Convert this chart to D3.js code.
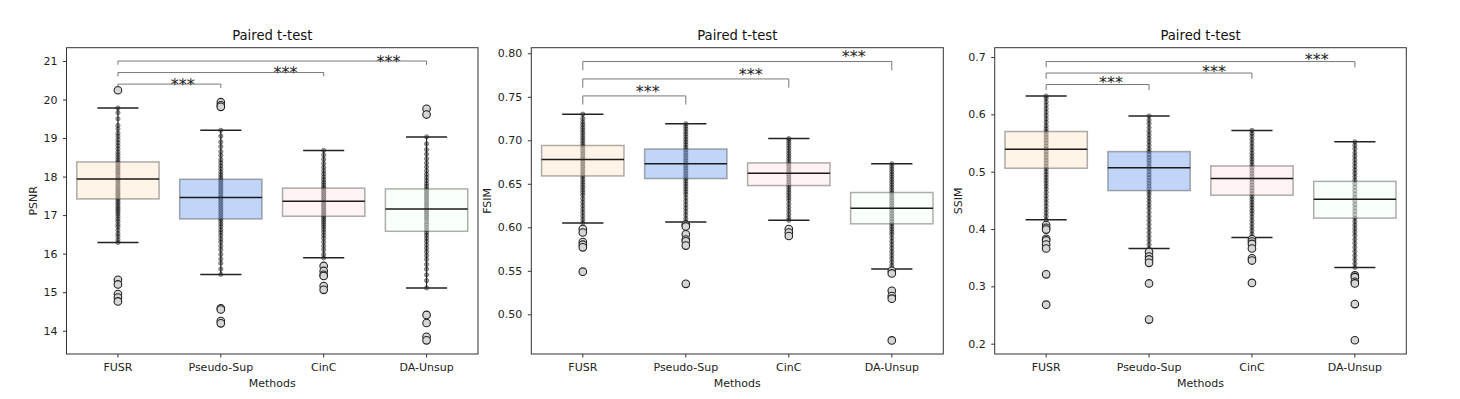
<!DOCTYPE html>
<html>
<head>
<meta charset="utf-8">
<script src="https://cdn.jsdelivr.net/npm/d3@7"></script>
<style>
  body { margin: 0; background: #fff; }
  svg { display: block; font-family: "DejaVu Sans", sans-serif; }
</style>
</head>
<body>
<svg id="chart" width="1460" height="399"></svg>
<script>
// categories shared by the three panels
var methods = ["FUSR", "Pseudo-Sup", "CinC", "DA-Unsup"];
var boxColors = ["#ffe4c4", "#6495ed", "#ffe4e1", "#f0fff0"];

// box stats per method: [lower whisker, q1, median, q3, upper whisker]
var psnrBoxes = [
    [16.29, 17.42, 17.94, 18.38, 19.78],
    [15.46, 16.90, 17.46, 17.93, 19.20],
    [15.89, 16.97, 17.36, 17.70, 18.68],
    [15.11, 16.58, 17.16, 17.68, 19.03]
];
var psnrOutliers = [
    [20.24, 15.32, 15.20, 14.95, 14.86, 14.76],
    [19.93, 19.85, 19.81, 14.58, 14.55, 14.25, 14.19],
    [15.68, 15.55, 15.45, 15.42, 15.16, 15.06],
    [19.76, 19.61, 14.41, 14.20, 13.84, 13.75]
];
var psnrStrip = [
    [16.29, 16.36, 16.45, 16.52, 16.61, 16.7, 16.76, 16.84, 16.9, 16.97, 17.03, 17.09, 17.14, 17.19, 17.24, 17.3, 17.35, 17.41, 17.46, 17.52, 17.57, 17.63, 17.68, 17.74, 17.8, 17.86, 17.92, 17.97, 18.03, 18.09, 18.14, 18.2, 18.25, 18.31, 18.37, 18.43, 18.5, 18.57, 18.64, 18.72, 18.8, 18.88, 18.96, 19.05, 19.13, 19.24, 19.33, 19.5, 19.66, 19.78],
    [15.46, 15.6, 15.75, 15.86, 15.98, 16.1, 16.2, 16.3, 16.38, 16.47, 16.55, 16.62, 16.7, 16.77, 16.84, 16.9, 16.96, 17.02, 17.08, 17.14, 17.2, 17.26, 17.32, 17.38, 17.44, 17.5, 17.56, 17.62, 17.68, 17.74, 17.8, 17.86, 17.92, 17.98, 18.05, 18.12, 18.2, 18.28, 18.36, 18.44, 18.55, 18.65, 18.78, 18.9, 19.05, 19.2],
    [15.89, 15.98, 16.1, 16.2, 16.3, 16.4, 16.48, 16.56, 16.63, 16.7, 16.76, 16.82, 16.88, 16.93, 16.98, 17.03, 17.08, 17.13, 17.18, 17.23, 17.28, 17.33, 17.38, 17.43, 17.48, 17.53, 17.58, 17.63, 17.68, 17.73, 17.79, 17.85, 17.92, 17.99, 18.07, 18.15, 18.24, 18.34, 18.45, 18.56, 18.68],
    [15.11, 15.3, 15.45, 15.6, 15.72, 15.85, 15.95, 16.05, 16.14, 16.23, 16.32, 16.4, 16.48, 16.55, 16.62, 16.69, 16.76, 16.83, 16.9, 16.96, 17.02, 17.08, 17.14, 17.2, 17.26, 17.32, 17.38, 17.44, 17.5, 17.56, 17.62, 17.68, 17.75, 17.82, 17.9, 17.98, 18.06, 18.15, 18.25, 18.35, 18.46, 18.58, 18.7, 18.85, 19.03]
];
var psnrTicks = [14, 15, 16, 17, 18, 19, 20, 21];

var fsimBoxes = [
    [0.605, 0.659, 0.678, 0.694, 0.730],
    [0.606, 0.656, 0.673, 0.690, 0.719],
    [0.608, 0.648, 0.662, 0.674, 0.702],
    [0.552, 0.604, 0.622, 0.640, 0.673]
];
var fsimOutliers = [
    [0.598, 0.594, 0.583, 0.580, 0.577, 0.549],
    [0.603, 0.601, 0.592, 0.586, 0.584, 0.579, 0.535],
    [0.598, 0.594, 0.590],
    [0.550, 0.547, 0.527, 0.521, 0.518, 0.470]
];
var fsimStrip = [
    [0.605, 0.609, 0.613, 0.617, 0.621, 0.625, 0.629, 0.633, 0.637, 0.64, 0.643, 0.646, 0.649, 0.652, 0.655, 0.658, 0.661, 0.664, 0.667, 0.67, 0.673, 0.676, 0.679, 0.682, 0.685, 0.688, 0.691, 0.694, 0.697, 0.7, 0.703, 0.706, 0.709, 0.712, 0.715, 0.718, 0.721, 0.725, 0.73],
    [0.606, 0.61, 0.614, 0.618, 0.622, 0.626, 0.63, 0.634, 0.638, 0.641, 0.644, 0.647, 0.65, 0.653, 0.656, 0.659, 0.662, 0.665, 0.668, 0.671, 0.674, 0.677, 0.68, 0.683, 0.686, 0.689, 0.692, 0.695, 0.698, 0.701, 0.704, 0.707, 0.71, 0.713, 0.716, 0.719],
    [0.608, 0.611, 0.615, 0.619, 0.623, 0.627, 0.631, 0.634, 0.637, 0.64, 0.643, 0.646, 0.649, 0.652, 0.655, 0.658, 0.661, 0.664, 0.667, 0.67, 0.673, 0.676, 0.679, 0.682, 0.685, 0.688, 0.691, 0.694, 0.697, 0.7, 0.702],
    [0.552, 0.556, 0.56, 0.564, 0.568, 0.572, 0.576, 0.58, 0.584, 0.588, 0.592, 0.595, 0.598, 0.601, 0.604, 0.607, 0.61, 0.613, 0.616, 0.619, 0.622, 0.625, 0.628, 0.631, 0.634, 0.637, 0.64, 0.643, 0.646, 0.649, 0.652, 0.655, 0.658, 0.661, 0.664, 0.667, 0.67, 0.673]
];
var fsimTicks = [0.50, 0.55, 0.60, 0.65, 0.70, 0.75, 0.80];

var ssimBoxes = [
    [0.416, 0.506, 0.539, 0.570, 0.632],
    [0.366, 0.467, 0.507, 0.535, 0.597],
    [0.385, 0.459, 0.488, 0.510, 0.572],
    [0.333, 0.419, 0.452, 0.483, 0.552]
];
var ssimOutliers = [
    [0.407, 0.402, 0.399, 0.383, 0.380, 0.373, 0.366, 0.321, 0.268],
    [0.360, 0.352, 0.347, 0.341, 0.305, 0.242],
    [0.382, 0.378, 0.374, 0.366, 0.349, 0.345, 0.306],
    [0.319, 0.316, 0.308, 0.305, 0.269, 0.206]
];
var ssimStrip = [
    [0.416, 0.422, 0.428, 0.434, 0.44, 0.446, 0.452, 0.458, 0.464, 0.47, 0.475, 0.48, 0.485, 0.49, 0.495, 0.5, 0.505, 0.51, 0.515, 0.52, 0.525, 0.53, 0.535, 0.54, 0.545, 0.55, 0.555, 0.56, 0.565, 0.57, 0.575, 0.58, 0.586, 0.592, 0.598, 0.604, 0.61, 0.616, 0.622, 0.628, 0.632],
    [0.366, 0.373, 0.38, 0.387, 0.394, 0.401, 0.408, 0.415, 0.422, 0.429, 0.436, 0.442, 0.448, 0.454, 0.46, 0.465, 0.47, 0.475, 0.48, 0.485, 0.49, 0.495, 0.5, 0.505, 0.51, 0.515, 0.52, 0.525, 0.53, 0.535, 0.54, 0.546, 0.552, 0.558, 0.564, 0.57, 0.577, 0.584, 0.59, 0.597],
    [0.385, 0.391, 0.397, 0.403, 0.409, 0.415, 0.421, 0.427, 0.432, 0.437, 0.442, 0.447, 0.452, 0.457, 0.462, 0.467, 0.472, 0.477, 0.482, 0.487, 0.492, 0.497, 0.502, 0.507, 0.512, 0.517, 0.522, 0.527, 0.532, 0.538, 0.544, 0.55, 0.556, 0.562, 0.567, 0.572],
    [0.333, 0.34, 0.347, 0.354, 0.361, 0.368, 0.375, 0.382, 0.389, 0.395, 0.401, 0.407, 0.413, 0.419, 0.425, 0.431, 0.437, 0.443, 0.449, 0.455, 0.461, 0.467, 0.473, 0.479, 0.485, 0.491, 0.497, 0.503, 0.509, 0.515, 0.521, 0.527, 0.533, 0.54, 0.546, 0.552]
];
var ssimTicks = [0.2, 0.3, 0.4, 0.5, 0.6, 0.7];

// significance brackets: FUSR vs each other method
var bracketPairs = [[0, 1], [0, 2], [0, 3]];
var psnrBracketLevels = [20.4, 20.7, 21.0];
var fsimBracketLevels = [0.751, 0.7705, 0.7905];
var ssimBracketLevels = [0.652, 0.672, 0.692];

var svg = d3.select("#chart");

function drawPanel(opts) {
    var left = opts.left, right = opts.right, top = 47.7, bottom = 354;

    var x = d3.scaleBand().domain(methods).range([left, right]).padding(0);
    var y = d3.scaleLinear().domain(opts.domain).range([bottom, top]);
    var bw = x.bandwidth();
    var cx = function (m) { return x(m) + bw / 2; };

    var g = svg.append("g");

    // strip points (drawn under the boxes)
    methods.forEach(function (m, i) {
        g.append("g").selectAll("circle")
            .data(opts.strip[i])
            .enter().append("circle")
            .attr("cx", cx(m))
            .attr("cy", function (d) { return y(d); })
            .attr("r", 2.1)
            .attr("fill", "#555")
            .attr("stroke", "#000")
            .attr("stroke-width", 0.9)
            .attr("opacity", 0.55);
    });

    var box = g.append("g").selectAll("g")
        .data(opts.boxes)
        .enter().append("g");

    box.append("rect")
        .attr("x", function (d, i) { return cx(methods[i]) - bw * 0.4; })
        .attr("y", function (d) { return y(d[3]); })
        .attr("width", bw * 0.8)
        .attr("height", function (d) { return y(d[1]) - y(d[3]); })
        .attr("fill", function (d, i) { return boxColors[i]; })
        .attr("fill-opacity", 0.4)
        .attr("stroke", "#333")
        .attr("stroke-opacity", 0.4)
        .attr("stroke-width", 1.5);

    // whiskers
    box.append("line")
        .attr("x1", function (d, i) { return cx(methods[i]); })
        .attr("x2", function (d, i) { return cx(methods[i]); })
        .attr("y1", function (d) { return y(d[3]); })
        .attr("y2", function (d) { return y(d[4]); })
        .attr("stroke", "#222").attr("stroke-width", 1.2);
    box.append("line")
        .attr("x1", function (d, i) { return cx(methods[i]); })
        .attr("x2", function (d, i) { return cx(methods[i]); })
        .attr("y1", function (d) { return y(d[1]); })
        .attr("y2", function (d) { return y(d[0]); })
        .attr("stroke", "#222").attr("stroke-width", 1.2);

    // caps
    [0, 4].forEach(function (k) {
        box.append("line")
            .attr("x1", function (d, i) { return cx(methods[i]) - bw * 0.2; })
            .attr("x2", function (d, i) { return cx(methods[i]) + bw * 0.2; })
            .attr("y1", function (d) { return y(d[k]); })
            .attr("y2", function (d) { return y(d[k]); })
            .attr("stroke", "#222").attr("stroke-width", 1.5);
    });

    // median
    box.append("line")
        .attr("x1", function (d, i) { return cx(methods[i]) - bw * 0.4; })
        .attr("x2", function (d, i) { return cx(methods[i]) + bw * 0.4; })
        .attr("y1", function (d) { return y(d[2]); })
        .attr("y2", function (d) { return y(d[2]); })
        .attr("stroke", "#1a1a1a").attr("stroke-width", 1.5);

    // outliers
    methods.forEach(function (m, i) {
        g.append("g").selectAll("circle")
            .data(opts.outliers[i])
            .enter().append("circle")
            .attr("cx", cx(m))
            .attr("cy", function (d) { return y(d); })
            .attr("r", 3.8)
            .attr("fill", "#d6d6d6")
            .attr("stroke", "#222")
            .attr("stroke-width", 1.1);
    });

    // brackets
    bracketPairs.forEach(function (p, k) {
        var lvl = opts.levels[k];
        var x1 = cx(methods[p[0]]), x2 = cx(methods[p[1]]);
        var yl = y(lvl), yt = y(lvl - opts.tick);
        g.append("path")
            .attr("d", "M" + x1 + "," + yt + "V" + yl + "H" + x2 + "V" + yt)
            .attr("fill", "none")
            .attr("stroke", "#777")
            .attr("stroke-width", 1);
        g.append("text")
            .attr("x", x2 - bw * 0.37)
            .attr("y", yl - (yt - yl) + 9.4)
            .attr("text-anchor", "middle")
            .attr("font-size", 16)
            .attr("fill", "#222")
            .text("***");
    });

    // frame
    g.append("rect")
        .attr("x", left).attr("y", top)
        .attr("width", right - left).attr("height", bottom - top)
        .attr("fill", "none").attr("stroke", "#333").attr("stroke-width", 1);

    var yAxis = g.append("g")
        .attr("transform", "translate(" + left + ",0)")
        .call(d3.axisLeft(y).tickValues(opts.ticks).tickFormat(d3.format(opts.fmt))
            .tickSize(3.5).tickPadding(5.5));
    var xAxis = g.append("g")
        .attr("transform", "translate(0," + bottom + ")")
        .call(d3.axisBottom(x).tickSize(3.5).tickPadding(5.5));

    [yAxis, xAxis].forEach(function (a) {
        a.select(".domain").remove();
        a.selectAll("line").attr("stroke", "#333");
        a.selectAll("text").attr("font-size", 11).attr("fill", "#222")
            .attr("font-family", "DejaVu Sans");
    });

    g.append("text")
        .attr("x", (left + right) / 2).attr("y", 40)
        .attr("text-anchor", "middle")
        .attr("font-size", 13.2).attr("fill", "#111")
        .text("Paired t-test");

    g.append("text")
        .attr("x", (left + right) / 2).attr("y", 387)
        .attr("text-anchor", "middle")
        .attr("font-size", 11).attr("fill", "#222")
        .text("Methods");

    g.append("text")
        .attr("transform", "translate(" + opts.labelX + "," + (top + bottom) / 2 + ") rotate(-90)")
        .attr("text-anchor", "middle")
        .attr("font-size", 11).attr("fill", "#222")
        .text(opts.label);
}

drawPanel({ left: 66.5, right: 478, domain: [13.395, 21.345], boxes: psnrBoxes, outliers: psnrOutliers,
    strip: psnrStrip, ticks: psnrTicks, fmt: "d", levels: psnrBracketLevels, tick: 0.1, label: "PSNR", labelX: 37 });
drawPanel({ left: 531.3, right: 943.3, domain: [0.4544, 0.8064], boxes: fsimBoxes, outliers: fsimOutliers,
    strip: fsimStrip, ticks: fsimTicks, fmt: ".2f", levels: fsimBracketLevels, tick: 0.01, label: "FSIM", labelX: 491 });
drawPanel({ left: 994.7, right: 1406.3, domain: [0.182, 0.7162], boxes: ssimBoxes, outliers: ssimOutliers,
    strip: ssimStrip, ticks: ssimTicks, fmt: ".1f", levels: ssimBracketLevels, tick: 0.01, label: "SSIM", labelX: 962 });
</script>
</body>
</html>
